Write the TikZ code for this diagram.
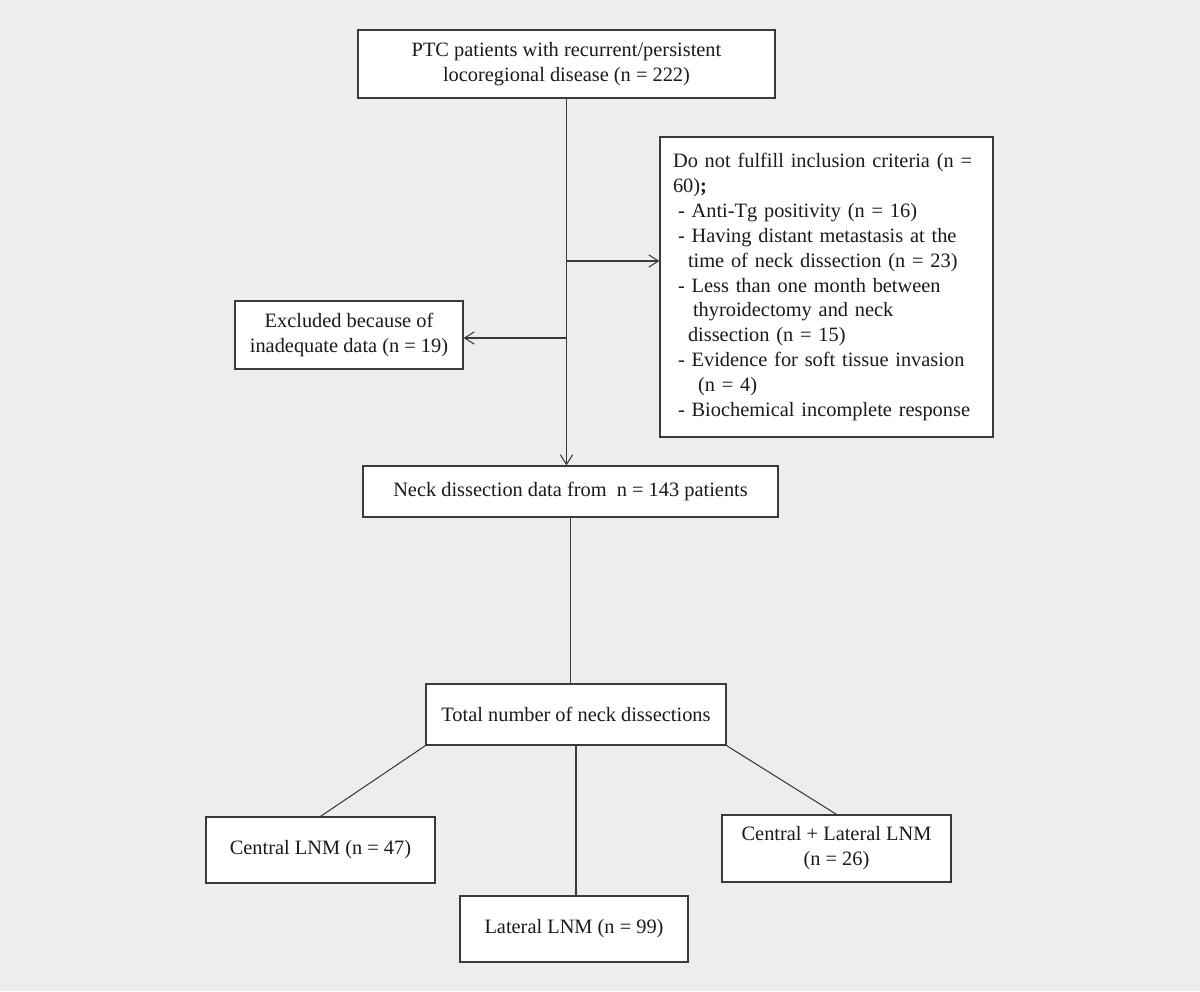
\documentclass[tikz,border=0pt]{standalone}
\usepackage{xcolor}
\usepackage{fontspec}
\setmainfont{Liberation Serif}
\usepackage{tikz}
\usetikzlibrary{positioning, arrows.meta, calc}
\definecolor{bg}{HTML}{EDEDED}
\definecolor{ln}{HTML}{3A3A3A}
\definecolor{txt}{HTML}{1A1A1A}

\begin{document}
\begin{tikzpicture}[x=0.02cm, y=-0.02cm,
    box/.style={draw=ln, fill=white, line width=0.7pt, text=txt, align=center,
      font=\fontsize{11.6}{14.2}\selectfont, inner sep=0pt},
    link/.style={draw=ln, line width=0.6pt},
    arr/.style={link, -{Straight Barb[length=5.5pt, width=7pt]}}]
  \fill[bg] (0,0) rectangle (1200,991);
  % boxes
  \node[box, minimum width=8.34cm, minimum height=1.36cm] (top) at (566.5,64)
    {PTC patients with recurrent/persistent\\ locoregional disease (n = 222)};
  \node[box, minimum width=6.66cm, minimum height=6cm, align=left,
    text width=6.14cm, inner xsep=0.26cm] (crit) at (826.5,287)
    {Do not fulfill inclusion criteria (n =\\
     60)\textbf{;}\\
     \hspace*{0.1cm}- Anti-Tg positivity (n = 16)\\
     \hspace*{0.1cm}- Having distant metastasis at the\\
     \hspace*{0.3cm}time of neck dissection (n = 23)\\
     \hspace*{0.1cm}- Less than one month between\\
     \hspace*{0.4cm}thyroidectomy and neck\\
     \hspace*{0.3cm}dissection (n = 15)\\
     \hspace*{0.1cm}- Evidence for soft tissue invasion\\
     \hspace*{0.5cm}(n = 4)\\
     \hspace*{0.1cm}- Biochemical incomplete response};
  \node[box, minimum width=4.56cm, minimum height=1.36cm] (excl) at (349,335)
    {Excluded because of\\ inadequate data (n = 19)};
  \node[box, minimum width=8.3cm, minimum height=1.02cm] (neck) at (570.5,491.5)
    {Neck dissection data from \ n = 143 patients};
  \node[box, minimum width=6cm, minimum height=1.22cm] (total) at (576,714.5)
    {Total number of neck dissections};
  \node[box, minimum width=4.58cm, minimum height=1.32cm] (cen) at (320.5,850)
    {Central LNM (n = 47)};
  \node[box, minimum width=4.56cm, minimum height=1.32cm] (lat) at (574,929)
    {Lateral LNM (n = 99)};
  \node[box, minimum width=4.58cm, minimum height=1.34cm] (both) at (836.5,848.5)
    {Central + Lateral LNM\\ (n = 26)};
  % connectors
  \coordinate (j1) at (567,261);
  \coordinate (j2) at (567,338);
  \draw[arr] (top.south) -- (top.south |- neck.north);
  \draw[arr] (j1) -- (j1 -| crit.west);
  \draw[arr] (j2) -- (j2 -| excl.east);
  \draw[link] (neck.south) -- (neck.south |- total.north);
  \draw[link] (total.south west) -- (cen.north);
  \draw[link] (total.south) -- (total.south |- lat.north);
  \draw[link] (total.south east) -- (both.north);
\end{tikzpicture}
\end{document}
